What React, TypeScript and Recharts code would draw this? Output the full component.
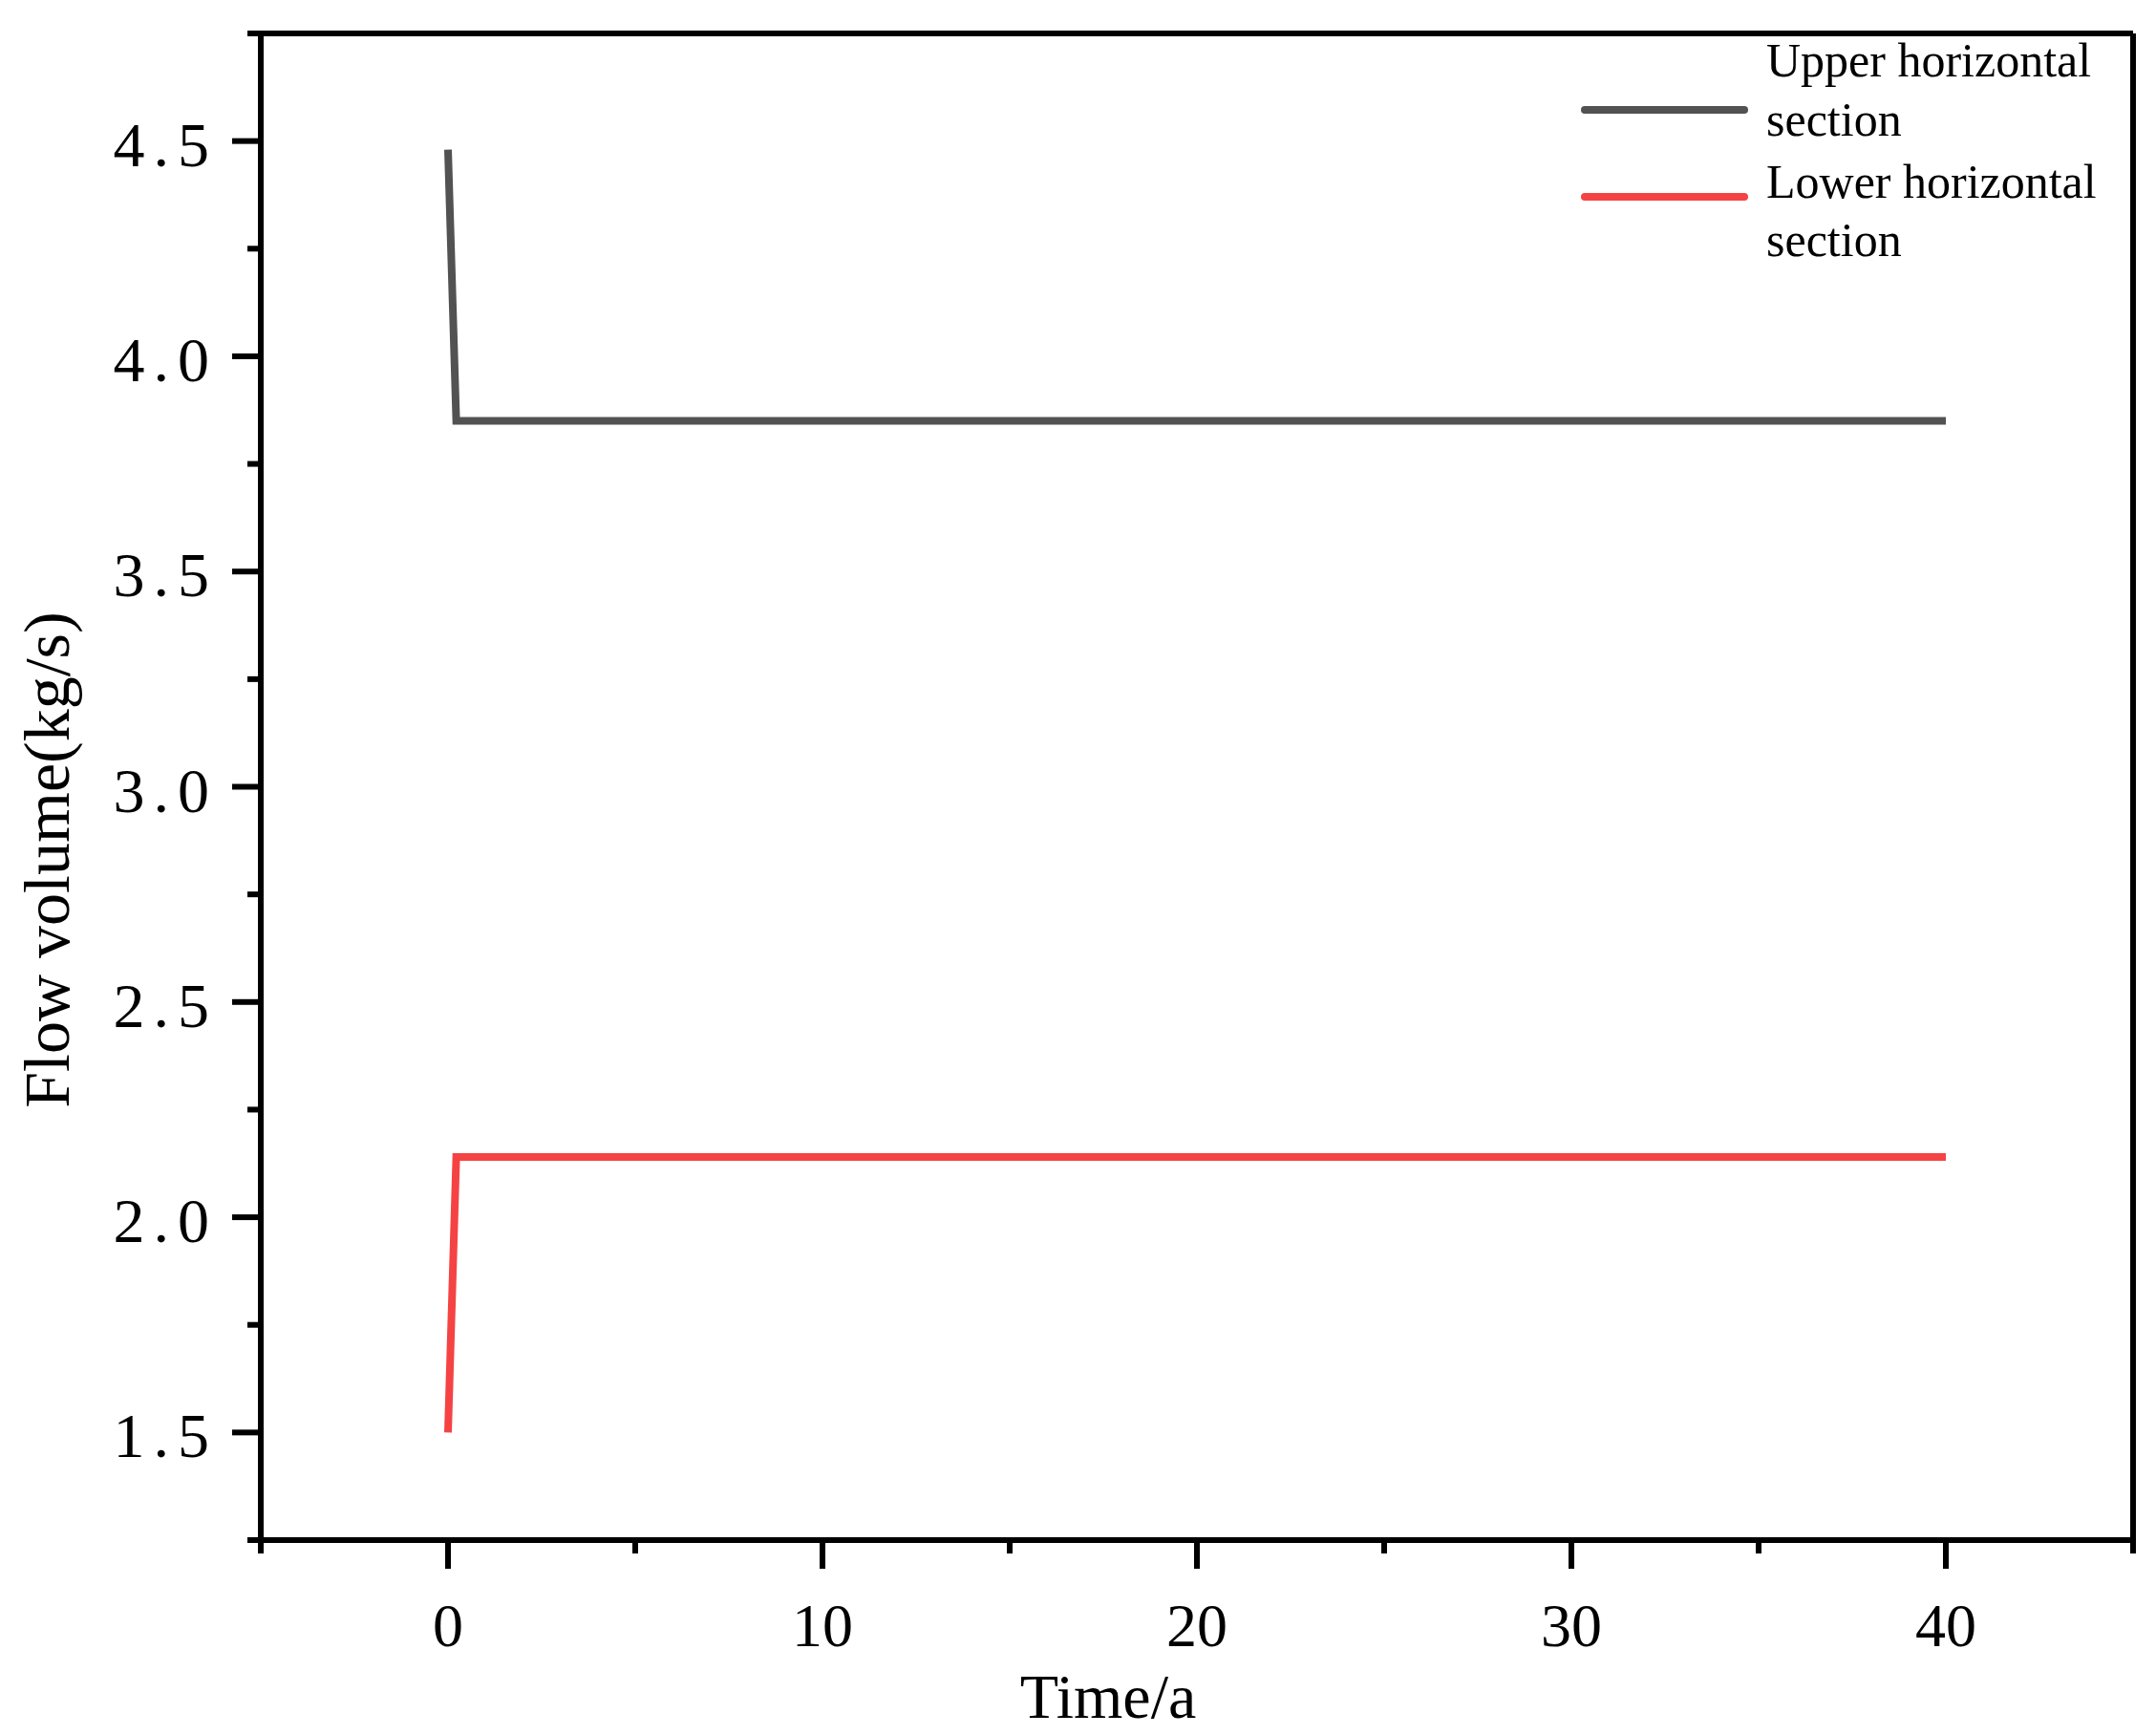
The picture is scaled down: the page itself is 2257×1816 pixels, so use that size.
import { LineChart, Line, XAxis, YAxis, Legend, ReferenceLine } from 'recharts';

const upperTime = [0, 0.22, 40];
const upperFlow = [4.48, 3.85, 3.85];
const lowerTime = [0, 0.22, 40];
const lowerFlow = [1.5, 2.14, 2.14];

const seriesNames = ['Upper horizontal section', 'Lower horizontal section'];
const seriesColors = ['#525252', '#F54343'];

const xTicks = [-5, 0, 5, 10, 15, 20, 25, 30, 35, 40, 45];
const xLabels = [0, 10, 20, 30, 40];
const yTicks = [1.25, 1.5, 1.75, 2, 2.25, 2.5, 2.75, 3, 3.25, 3.5, 3.75, 4, 4.25, 4.5, 4.75];
const yLabels = [1.5, 2, 2.5, 3, 3.5, 4, 4.5];

const upper = upperTime.map((t, i) => ({ t, v: upperFlow[i] }));
const lower = lowerTime.map((t, i) => ({ t, v: lowerFlow[i] }));

const FONT = '"Liberation Serif", "Times New Roman", serif';
const W = 2257;
const H = 1816;
const AXIS_W = 6;

function XTick({ x, y, payload }: any) {
  const v = payload.value;
  const major = xLabels.includes(v);
  return (
    <g>
      <line x1={x} y1={y} x2={x} y2={y + (major ? 30 : 14)} stroke="#000" strokeWidth={AXIS_W} />
      {major && (
        <text x={x} y={y + 111} textAnchor="middle" fontFamily={FONT} fontSize={64} fill="#000">
          {v}
        </text>
      )}
    </g>
  );
}

function YTick({ x, y, payload }: any) {
  const v = payload.value;
  const major = yLabels.some((l) => Math.abs(l - v) < 1e-9);
  return (
    <g>
      <line x1={x} y1={y} x2={x - (major ? 30 : 14)} y2={y} stroke="#000" strokeWidth={AXIS_W} />
      {major && (
        <text x={x - 45} y={y + 26} textAnchor="end" fontFamily={FONT} fontSize={66} letterSpacing={9} fill="#000">
          {v.toFixed(1)}
        </text>
      )}
    </g>
  );
}

function LegendBox({ payload }: any) {
  const lineY = [115, 206];
  const textY = [
    [80, 142],
    [207, 268],
  ];
  const items = [...(payload || [])].sort(
    (a: any, b: any) => seriesNames.indexOf(a.value) - seriesNames.indexOf(b.value),
  );
  return (
    <svg width={W} height={300} style={{ display: 'block' }}>
      {items.map((p: any, i: number) => {
        const words = String(p.value).split(' ');
        const first = words.slice(0, 2).join(' ');
        const rest = words.slice(2).join(' ');
        return (
          <g key={p.value}>
            <line x1={1659} x2={1826} y1={lineY[i]} y2={lineY[i]} stroke={p.color} strokeWidth={8} strokeLinecap="round" />
            <text x={1849} y={textY[i][0]} fontFamily={FONT} fontSize={50} fill="#000">
              {first}
            </text>
            <text x={1849} y={textY[i][1]} fontFamily={FONT} fontSize={50} fill="#000">
              {rest}
            </text>
          </g>
        );
      })}
    </svg>
  );
}

export default function App() {
  return (
    <div style={{ width: W, height: H, background: '#fff' }}>
      <style>{'body{margin:0}'}</style>
      <LineChart width={W} height={H} margin={{ top: 35, right: 24, left: 0, bottom: 0 }}>
        <XAxis
          dataKey="t"
          type="number"
          domain={[-5, 45]}
          ticks={xTicks}
          interval={0}
          height={204}
          tickSize={0}
          tickMargin={0}
          tickLine={false}
          axisLine={{ stroke: '#000', strokeWidth: AXIS_W }}
          tick={<XTick />}
          allowDataOverflow
          label={{
            content: ({ viewBox }: any) => (
              <text x={viewBox.x + 887} y={viewBox.y + 186} textAnchor="middle" fontFamily={FONT} fontSize={66} fill="#000">
                Time/a
              </text>
            ),
          }}
        />
        <YAxis
          type="number"
          domain={[1.25, 4.75]}
          ticks={yTicks}
          interval={0}
          width={273}
          tickSize={0}
          tickMargin={0}
          tickLine={false}
          axisLine={{ stroke: '#000', strokeWidth: AXIS_W }}
          tick={<YTick />}
          allowDataOverflow
          label={{
            content: ({ viewBox }: any) => (
              <text
                transform={`translate(${viewBox.x + 72}, ${viewBox.y + 865}) rotate(-90)`}
                textAnchor="middle"
                fontFamily={FONT}
                fontSize={68}
                fill="#000"
              >
                Flow volume(kg/s)
              </text>
            ),
          }}
        />
        <ReferenceLine y={4.75} stroke="#000" strokeWidth={AXIS_W} />
        <ReferenceLine x={45} stroke="#000" strokeWidth={AXIS_W} />
        <Legend
          layout="horizontal"
          verticalAlign="middle"
          align="center"
          wrapperStyle={{ left: 0, top: 0, width: W, height: 300 }}
          content={<LegendBox />}
        />
        <Line
          data={upper}
          dataKey="v"
          name={seriesNames[0]}
          type="linear"
          stroke={seriesColors[0]}
          strokeWidth={8}
          dot={false}
          activeDot={false}
          isAnimationActive={false}
        />
        <Line
          data={lower}
          dataKey="v"
          name={seriesNames[1]}
          type="linear"
          stroke={seriesColors[1]}
          strokeWidth={8}
          dot={false}
          activeDot={false}
          isAnimationActive={false}
        />
      </LineChart>
    </div>
  );
}
